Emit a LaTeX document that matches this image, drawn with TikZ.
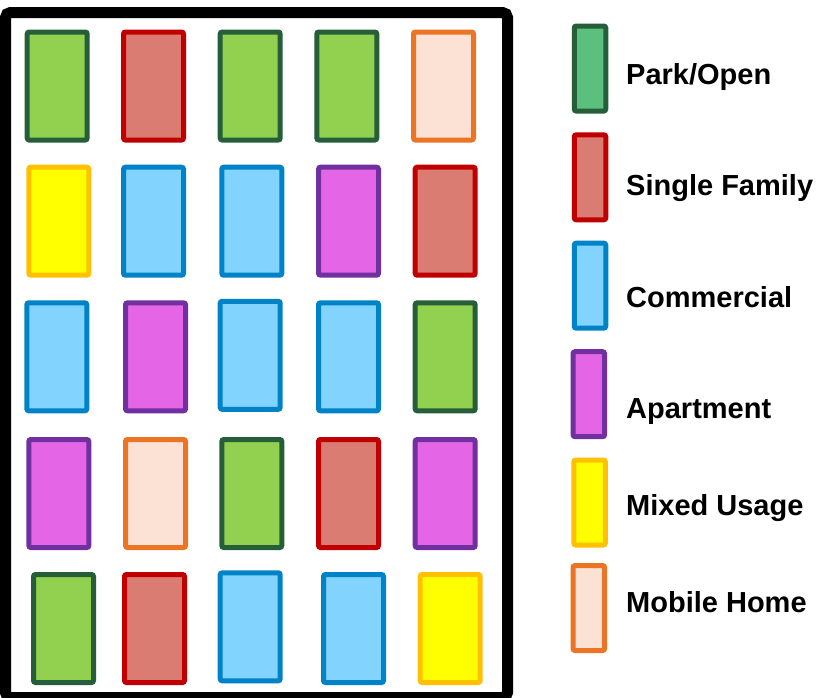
\documentclass[tikz,border=0pt]{standalone}
\usepackage{fontspec}
\setmainfont{Liberation Sans}
\usepackage{tikz}

\definecolor{parkfill}{HTML}{92D050}
\definecolor{parkline}{HTML}{255E38}
\definecolor{parkkey}{HTML}{5BC07E}
\definecolor{sfamfill}{HTML}{DA7C72}
\definecolor{sfamline}{HTML}{C00000}
\definecolor{commfill}{HTML}{83D3FF}
\definecolor{commline}{HTML}{0082C6}
\definecolor{aptfill}{HTML}{E466E6}
\definecolor{aptline}{HTML}{7030A0}
\definecolor{mixfill}{HTML}{FFFF00}
\definecolor{mixline}{HTML}{FFC000}
\definecolor{mobfill}{HTML}{FBE2D5}
\definecolor{mobline}{HTML}{EB7425}

\begin{document}
\begin{tikzpicture}[x=1pt,y=-1pt]
	\tikzstyle{lot}=[draw, rectangle, line width=5pt, rounded corners=2pt, minimum width=60pt, minimum height=108pt, inner sep=0pt]
	\tikzstyle{key}=[draw, rectangle, line width=5pt, rounded corners=2pt, minimum width=31.5pt, minimum height=85pt, inner sep=0pt]
	\tikzstyle{keytext}=[anchor=base west, inner sep=0pt, font=\fontsize{29}{35}\selectfont\bfseries]
	\tikzstyle{park}=[draw=parkline, fill=parkfill]
	\tikzstyle{sfam}=[draw=sfamline, fill=sfamfill]
	\tikzstyle{comm}=[draw=commline, fill=commfill]
	\tikzstyle{apt}=[draw=aptline, fill=aptfill]
	\tikzstyle{mix}=[draw=mixline, fill=mixfill]
	\tikzstyle{mob}=[draw=mobline, fill=mobfill]

	\useasboundingbox (0,0) rectangle (827,697);

	% block outline
	\draw[line width=11pt, rounded corners=5pt] (5.5,12.5) rectangle (507.5,697.5);

	% row 1
	\node[lot,park] (r1c1) at (57.2,86) {};
	\node[lot,sfam] (r1c2) at (153.5,86) {};
	\node[lot,park] (r1c3) at (250.2,86) {};
	\node[lot,park] (r1c4) at (346.8,86) {};
	\node[lot,mob] (r1c5) at (443.5,86) {};
	% row 2
	\node[lot,mix] (r2c1) at (58.8,221.2) {};
	\node[lot,comm] (r2c2) at (153.5,221.2) {};
	\node[lot,comm] (r2c3) at (251.8,221.2) {};
	\node[lot,apt] (r2c4) at (348.5,221.2) {};
	\node[lot,sfam] (r2c5) at (445.2,221.2) {};
	% row 3
	\node[lot,comm] (r3c1) at (56.8,356.8) {};
	\node[lot,apt] (r3c2) at (155.5,356.8) {};
	\node[lot,comm] (r3c3) at (250.2,355.3) {};
	\node[lot,comm] (r3c4) at (348.5,356.8) {};
	\node[lot,park] (r3c5) at (445.2,356.8) {};
	% row 4
	\node[lot,apt] (r4c1) at (58.8,493.5) {};
	\node[lot,mob] (r4c2) at (155.5,493.5) {};
	\node[lot,park] (r4c3) at (251.8,493.5) {};
	\node[lot,sfam] (r4c4) at (348.5,493.5) {};
	\node[lot,apt] (r4c5) at (445.2,493.5) {};
	% row 5
	\node[lot,park] (r5c1) at (63.5,628.5) {};
	\node[lot,sfam] (r5c2) at (154.5,628.5) {};
	\node[lot,comm] (r5c3) at (250.2,626.8) {};
	\node[lot,comm] (r5c4) at (353.5,628.5) {};
	\node[lot,mix] (r5c5) at (450.2,628.5) {};

	% legend
	\node[key,draw=parkline,fill=parkkey] (kpark) at (590,68.5) {};
	\node[key,sfam] (ksfam) at (590,177.3) {};
	\node[key,comm] (kcomm) at (590,285.7) {};
	\node[key,apt] (kapt) at (588.8,394.2) {};
	\node[key,mix] (kmix) at (589.5,502.5) {};
	\node[key,mob] (kmob) at (588.8,608) {};

	\node[keytext] (tpark) at (626,84) {Park/Open};
	\node[keytext] (tsfam) at (626,195) {Single Family};
	\node[keytext] (tcomm) at (626,307.3) {Commercial};
	\node[keytext] (tapt) at (626,418.3) {Apartment};
	\node[keytext] (tmix) at (626,515) {Mixed Usage};
	\node[keytext] (tmob) at (626,612) {Mobile Home};
\end{tikzpicture}
\end{document}
